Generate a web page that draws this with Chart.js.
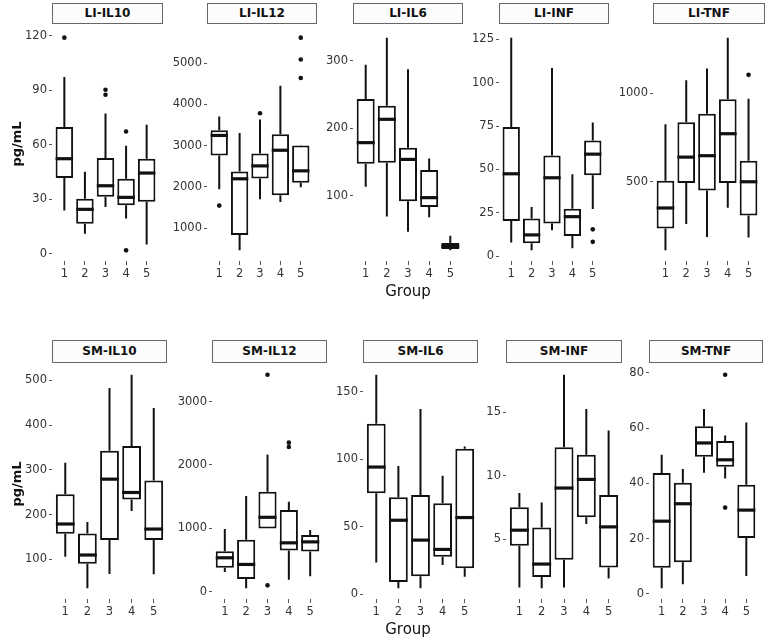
<!DOCTYPE html>
<html>
<head>
<meta charset="utf-8">
<script src="https://cdn.jsdelivr.net/npm/chart.js@4.4.0/dist/chart.umd.min.js"></script>
<style>
  body { margin: 0; background: #fff; }
  #fig { position: relative; width: 767px; height: 642px; overflow: hidden; font-family: 'DejaVu Sans', sans-serif; }
  #fig canvas { position: absolute; }
  .strip { position: absolute; box-sizing: border-box; border: 1px solid #666; background: #fcfcfc;
           font-weight: bold; font-size: 12px; color: #111; text-align: center; }
  .xlab { position: absolute; font-size: 15px; color: #111; transform: translate(-50%, -50%); white-space: nowrap; }
  .ylab { position: absolute; font-size: 13px; font-weight: bold; color: #111; white-space: nowrap;
          transform: translate(-50%, -50%) rotate(-90deg); }
</style>
</head>
<body>
<div id="fig"></div>
<script>
// Panels, left to right, top row then bottom row
const panelNames = ['LI-IL10', 'LI-IL12', 'LI-IL6', 'LI-INF', 'LI-TNF',
                    'SM-IL10', 'SM-IL12', 'SM-IL6', 'SM-INF', 'SM-TNF'];
const groups = [1, 2, 3, 4, 5];

// box statistics per panel, one value per group
const whiskerLow = [
  [23.8, 11, 25.7, 19.3, 5],
  [1940, 460, 1699, 1634, 1988],
  [113, 69, 46.5, 68, 18.8],
  [8, 3.4, 15, 4.6, 27.2],
  [113, 262, 188, 353, 186],
  [106, 35.3, 67.3, 207.8, 67],
  [309, 52, 995, 188, 241],
  [23.6, 4.4, 4.4, 21.6, 13],
  [1.2, 1.13, 1.2, 6.2, 1.91],
  [2, 3.5, 43.8, 41.7, 6.5],
];
const lowerQuartile = [
  [41.7, 16.5, 31.4, 26.6, 28.6],
  [2759, 831, 2205, 1795, 2099],
  [147, 148.7, 91.4, 83, 20.8],
  [20.3, 7.5, 18.8, 11.7, 46.6],
  [237, 493, 451, 493, 310],
  [157.2, 90.3, 143, 233.8, 143],
  [377, 199, 995, 650, 633],
  [74.8, 9.1, 13.3, 27.8, 19.2],
  [4.48, 2.02, 3.38, 6.73, 2.77],
  [9.4, 11.4, 49.6, 46, 20.2],
];
const medians = [
  [52.3, 24.4, 37.4, 31, 44.4],
  [3246, 2195, 2508, 2887, 2388],
  [178.4, 213, 153.6, 96.9, 24.8],
  [47.5, 12.3, 45.2, 22.8, 58.8],
  [352, 639, 647, 771, 500],
  [179, 109.7, 279.2, 249.4, 167.7],
  [534, 429, 1173, 770, 785],
  [94.2, 54.8, 40.1, 33.2, 56.8],
  [5.71, 3.04, 9.03, 9.71, 5.97],
  [26.3, 32.6, 54.6, 48.5, 30.3],
];
const upperQuartile = [
  [69.7, 30.3, 52.7, 41.3, 52.3],
  [3369, 2373, 2807, 3272, 3000],
  [243, 233, 171, 138, 29.6],
  [74.4, 21.7, 58, 27.4, 66.7],
  [506, 836, 883, 966, 618],
  [245.7, 158, 342.4, 353.5, 276],
  [639, 817, 1576, 1288, 895],
  [126.2, 71.8, 73.5, 67.4, 107.7],
  [7.51, 5.92, 12.25, 11.65, 8.48],
  [43.7, 40.2, 60.6, 55.3, 39.5],
];
const whiskerHigh = [
  [97.3, 45.1, 77.2, 59.5, 71],
  [3706, 3304, 3634, 4453, 3010],
  [294, 334, 287, 155, 40.6],
  [125.9, 28.4, 108.4, 47.3, 77],
  [825, 1073, 1139, 1313, 968],
  [315.6, 183.3, 483, 512.6, 438],
  [990, 1508, 2162, 1418, 974],
  [162.6, 94.9, 137.2, 87.8, 109.4],
  [8.64, 7.9, 17.96, 15.26, 13.56],
  [50.3, 45.2, 66.9, 57.3, 62],
];
// outliers as [group, value]
const outliers = [
  [[1, 119], [3, 90.3], [3, 87.5], [4, 67.3], [4, 1.8]],
  [[1, 1545], [3, 3785], [5, 5617], [5, 5087], [5, 4639]],
  [],
  [[5, 15.5], [5, 8.3]],
  [[5, 1103]],
  [],
  [[3, 3424], [3, 99], [4, 2351], [4, 2283]],
  [],
  [],
  [[4, 79.3], [4, 31.2]],
];
const yTicks = [
  [0, 30, 60, 90, 120],
  [1000, 2000, 3000, 4000, 5000],
  [100, 200, 300],
  [0, 25, 50, 75, 100, 125],
  [500, 1000],
  [100, 200, 300, 400, 500],
  [0, 1000, 2000, 3000],
  [0, 50, 100, 150],
  [5, 10, 15],
  [0, 20, 40, 60, 80],
];

// layout (pixels)
const plotLeft  = [52, 207, 353, 499, 653, 52, 212, 363, 506, 649];
const plotRight = [163, 317, 463, 609, 765, 167, 327, 478, 622, 763];
const rowTop = [27, 364];
const rowBottom = [261, 599];
const stripTop = [3, 340];
const stripH = [21, 23];
const Y_AXIS_W = 48;
const X_AXIS_H = 22;
const TOP_PAD = 10;

const ink = '#111';

Chart.defaults.font.family = "'DejaVu Sans', sans-serif";
Chart.defaults.font.size = 11.5;

const boxPlugin = {
  id: 'boxWhiskers',
  beforeDatasetsDraw(chart, args, opts) {
    const i = opts.panel;
    const y = chart.scales.y;
    const bars = chart.getDatasetMeta(0).data;
    const ctx = chart.ctx;
    ctx.save();
    ctx.strokeStyle = ink;
    ctx.lineWidth = 2;
    bars.forEach((bar, j) => {
      const x = bar.x;
      ctx.beginPath();
      ctx.moveTo(x, y.getPixelForValue(upperQuartile[i][j]));
      ctx.lineTo(x, y.getPixelForValue(whiskerHigh[i][j]));
      ctx.moveTo(x, y.getPixelForValue(lowerQuartile[i][j]));
      ctx.lineTo(x, y.getPixelForValue(whiskerLow[i][j]));
      ctx.stroke();
    });
    ctx.restore();
  },
  afterDatasetsDraw(chart, args, opts) {
    const i = opts.panel;
    const y = chart.scales.y;
    const bars = chart.getDatasetMeta(0).data;
    const ctx = chart.ctx;
    ctx.save();
    ctx.strokeStyle = ink;
    ctx.lineWidth = 3.2;
    bars.forEach((bar, j) => {
      const py = y.getPixelForValue(medians[i][j]);
      ctx.beginPath();
      ctx.moveTo(bar.x - bar.width / 2, py);
      ctx.lineTo(bar.x + bar.width / 2, py);
      ctx.stroke();
    });
    ctx.restore();
  }
};

function yRange(i) {
  const vals = [...whiskerLow[i], ...whiskerHigh[i], ...outliers[i].map(o => o[1])];
  const lo = Math.min(...vals), hi = Math.max(...vals);
  const pad = (hi - lo) * 0.05;
  return [lo - pad, hi + pad];
}

const fig = document.getElementById('fig');

function addDiv(cls, text, style) {
  const d = document.createElement('div');
  d.className = cls;
  d.textContent = text;
  Object.assign(d.style, style);
  fig.appendChild(d);
}

function createPanel(i) {
  const row = i < 5 ? 0 : 1;
  const left = plotLeft[i] - Y_AXIS_W;
  const w = plotRight[i] - left;
  const h = rowBottom[row] - rowTop[row] + TOP_PAD + X_AXIS_H;

  const canvas = document.createElement('canvas');
  canvas.width = w;
  canvas.height = h;
  canvas.style.left = left + 'px';
  canvas.style.top = (rowTop[row] - TOP_PAD) + 'px';
  canvas.style.width = w + 'px';
  canvas.style.height = h + 'px';
  fig.appendChild(canvas);

  const [ymin, ymax] = yRange(i);

  new Chart(canvas, {
    type: 'bar',
    data: {
      datasets: [{
        type: 'bar',
        data: groups.map((g, j) => ({ x: g, y: [lowerQuartile[i][j], upperQuartile[i][j]] })),
        backgroundColor: '#fff',
        borderColor: ink,
        borderWidth: 2,
        borderSkipped: false,
        barPercentage: 0.85,
        categoryPercentage: 1,
      }, {
        type: 'scatter',
        data: outliers[i].map(([g, v]) => ({ x: g, y: v })),
        backgroundColor: ink,
        borderWidth: 0,
        pointRadius: 2.3,
      }]
    },
    options: {
      responsive: false,
      animation: false,
      layout: { padding: { top: TOP_PAD, left: 0, right: 0, bottom: 0 } },
      plugins: {
        legend: { display: false },
        tooltip: { enabled: false },
        boxWhiskers: { panel: i },
      },
      scales: {
        x: {
          type: 'linear',
          min: 0.4,
          max: 5.6,
          offset: false,
          afterBuildTicks: s => { s.ticks = groups.map(v => ({ value: v })); },
          afterFit: s => { s.height = X_AXIS_H; },
          grid: { drawOnChartArea: false, drawTicks: true, tickLength: 4, color: '#555', offset: false },
          border: { display: false },
          ticks: { padding: 2, color: '#333', maxRotation: 0, autoSkip: false, callback: v => String(v) },
        },
        y: {
          type: 'linear',
          min: ymin,
          max: ymax,
          afterBuildTicks: s => { s.ticks = yTicks[i].map(v => ({ value: v })); },
          afterFit: s => { s.width = Y_AXIS_W; },
          grid: { drawOnChartArea: false, drawTicks: true, tickLength: 3, color: '#555' },
          border: { display: false },
          ticks: { padding: 2, color: '#333', callback: v => String(v) },
        }
      }
    },
    plugins: [boxPlugin]
  });

  addDiv('strip', panelNames[i], {
    left: plotLeft[i] + 'px',
    top: stripTop[row] + 'px',
    width: (plotRight[i] - plotLeft[i]) + 'px',
    height: stripH[row] + 'px',
    lineHeight: (stripH[row] - 2) + 'px',
  });
}

panelNames.forEach((_, i) => createPanel(i));

// axis titles
addDiv('ylab', 'pg/mL', { left: '16px', top: '144px' });
addDiv('ylab', 'pg/mL', { left: '16px', top: '484px' });
addDiv('xlab', 'Group', { left: '408px', top: '291px' });
addDiv('xlab', 'Group', { left: '408px', top: '629px' });
</script>
</body>
</html>
